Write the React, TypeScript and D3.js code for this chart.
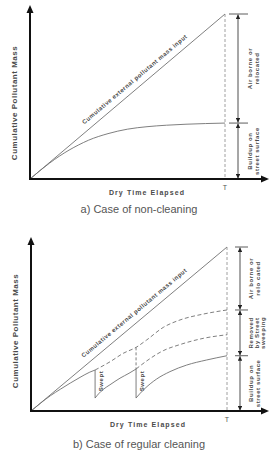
import React from 'react';
import * as d3 from 'd3';

// ---------- data (time in units of T/10, mass in units of total input at T / 10) ----------
const T_END = 10;
const inputT = [0, 10];
const inputV = [0, 10];

const noCleanT = [0, 0.5, 1, 1.5, 2, 2.5, 3, 4, 5, 6, 7, 8, 9, 10];
const noCleanV = [0, 0.5, 0.96, 1.38, 1.75, 2.07, 2.35, 2.75, 3.02, 3.17, 3.26, 3.32, 3.36, 3.39];

const sweepT = [3.27, 5.36];
const seg1T = [0, 0.5, 1, 1.5, 2, 2.5, 3, 3.27];
const seg1V = [0, 0.49, 0.94, 1.33, 1.7, 2.05, 2.37, 2.5];
const seg2T = [3.27, 3.45, 3.7, 4.03, 4.54, 5.0, 5.36];
const seg2V = [0.79, 1.05, 1.33, 1.6, 2.0, 2.3, 2.56];
const seg3T = [5.36, 5.55, 5.82, 6.41, 7.09, 7.94, 8.96, 10];
const seg3V = [0.79, 1.05, 1.38, 1.95, 2.4, 2.8, 3.11, 3.37];
const upperDashT = [3.27, 4.03, 4.71, 5.36, 5.9, 6.75, 7.6, 8.79, 10];
const upperDashV = [2.5, 3.0, 3.52, 3.88, 4.33, 5.1, 5.55, 5.91, 6.16];
const lowerDashT = [5.36, 5.9, 6.4, 6.75, 7.6, 8.79, 10];
const lowerDashV = [2.56, 3.05, 3.45, 3.68, 4.05, 4.43, 4.65];

const captions = ['a) Case of non-cleaning', 'b) Case of regular cleaning'];
const yTitle = 'Cumulative Pollutant Mass';
const xTitle = 'Dry Time Elapsed';
const lineLabel = 'Cumulative external pollutant mass input';
const tLabel = 'T';
const sweptLabel = 'Swept';
const bracketLabelsA = [['Air borne or', 'relocated'], ['Buildup on', 'street surface']];
const bracketLabelsB = [['Air borne or', 'relo cated'], ['Removed', 'by Street', 'sweeping'], ['Buildup on', 'street surface']];

const BOLD = '"Liberation Sans", Arial, sans-serif';
const LINE = '#707070';
const TXT = '#4a4a4a';

type Layout = {
  x0: number; x1: number; y0: number; y1: number;
  axisTop: number; axisRight: number;
  bracketX: number; tickX0: number; tickX1: number;
  yTitleX: number; yTitleY: number; xTitleX: number; xTitleY: number;
  captionY: number; tY: number; labelT: number; labelDy: number;
  textBase: number; gap2: number; gap3: number;
};

const layoutA: Layout = {
  x0: 30, x1: 225, y0: 179, y1: 14, axisTop: 5, axisRight: 269,
  bracketX: 238, tickX0: 229, tickX1: 248,
  yTitleX: 17, yTitleY: 103, xTitleX: 147, xTitleY: 195,
  captionY: 213, tY: 190, labelT: 5.65, labelDy: -6.5,
  textBase: 252, gap2: 7, gap3: 6,
};
const layoutB: Layout = {
  x0: 31, x1: 227, y0: 411, y1: 247, axisTop: 237, axisRight: 269,
  bracketX: 240, tickX0: 235, tickX1: 248,
  yTitleX: 18, yTitleY: 331, xTitleX: 148, xTitleY: 427,
  captionY: 448, tY: 422, labelT: 5.56, labelDy: -7,
  textBase: 253, gap2: 7, gap3: 6,
};

function Axes({ L }: { L: Layout }) {
  return (
    <g>
      <line x1={L.x0} y1={L.y0} x2={L.x0} y2={L.axisTop + 6} stroke="#111" strokeWidth={2} />
      <path d={`M${L.x0 - 3.5},${L.axisTop + 8} L${L.x0},${L.axisTop} L${L.x0 + 3.5},${L.axisTop + 8} Z`} fill="#111" />
      <line x1={L.x0 - 1} y1={L.y0} x2={L.axisRight - 6} y2={L.y0} stroke="#111" strokeWidth={2} />
      <path d={`M${L.axisRight - 8},${L.y0 - 3.5} L${L.axisRight},${L.y0} L${L.axisRight - 8},${L.y0 + 3.5} Z`} fill="#111" />
    </g>
  );
}

function Titles({ L, caption }: { L: Layout; caption: string }) {
  return (
    <g>
      <text transform={`translate(${L.yTitleX},${L.yTitleY}) rotate(-90)`} textAnchor="middle"
        fontFamily={BOLD} fontWeight="bold" fontSize={8} letterSpacing={0.5} fill={TXT}>{yTitle}</text>
      <text x={L.xTitleX} y={L.xTitleY} textAnchor="middle" fontFamily={BOLD} fontWeight="bold"
        fontSize={7} letterSpacing={1.1} fill={TXT}>{xTitle}</text>
      <text x={139} y={L.captionY} textAnchor="middle" fontFamily={BOLD} fontSize={11} fill="#555">{caption}</text>
    </g>
  );
}

function Brackets({ L, levels, labels, y }: { L: Layout; levels: number[]; labels: string[][]; y: d3.ScaleLinear<number, number> }) {
  return (
    <g>
      {levels.slice(0, -1).map((v, i) => (
        <line key={'t' + i} x1={L.tickX0} x2={L.tickX1} y1={y(v)} y2={y(v)} stroke="#333" strokeWidth={0.8} />
      ))}
      {levels.slice(0, -1).map((v, i) => {
        const a = y(v), b = y(levels[i + 1]);
        const mid = (a + b) / 2;
        const lines = labels[i];
        const gap = lines.length === 3 ? L.gap3 : L.gap2;
        return (
          <g key={'b' + i}>
            <line x1={L.bracketX} x2={L.bracketX} y1={a + 0.5} y2={b - 0.5} stroke="#222" strokeWidth={0.8}
              markerStart="url(#arrowHead)" markerEnd="url(#arrowHead)" />
            {lines.map((s, j) => (
              <text key={j} transform={`translate(${L.textBase + j * gap},${mid}) rotate(-90)`} textAnchor="middle"
                fontFamily={BOLD} fontWeight="bold" fontSize={6} letterSpacing={0.6} fill={TXT}>{s}</text>
            ))}
          </g>
        );
      })}
    </g>
  );
}

function InputLine({ L, x, y, line }: any) {
  const pts = inputT.map((t, i) => [t, inputV[i]] as [number, number]);
  const ang = (Math.atan2(y(inputV[1]) - y(inputV[0]), x(inputT[1]) - x(inputT[0])) * 180) / Math.PI;
  return (
    <g>
      <path d={line(pts)} fill="none" stroke={LINE} strokeWidth={0.9} />
      <text transform={`translate(${x(L.labelT)},${y(L.labelT)}) rotate(${ang})`} dy={L.labelDy} textAnchor="middle"
        fontFamily={BOLD} fontWeight="bold" fontSize={6} letterSpacing={0.45} fill={TXT}>{lineLabel}</text>
      <line x1={x(T_END)} x2={x(T_END)} y1={y(inputV[1])} y2={L.y0} stroke="#888" strokeWidth={0.8} strokeDasharray="3,2" />
      <text x={x(T_END)} y={L.tY} textAnchor="middle" fontFamily={BOLD} fontSize={7} fill="#555">{tLabel}</text>
    </g>
  );
}

export default function App() {
  const xa = d3.scaleLinear().domain([0, T_END]).range([layoutA.x0, layoutA.x1]);
  const ya = d3.scaleLinear().domain([0, 10]).range([layoutA.y0, layoutA.y1]);
  const xb = d3.scaleLinear().domain([0, T_END]).range([layoutB.x0, layoutB.x1]);
  const yb = d3.scaleLinear().domain([0, 10]).range([layoutB.y0, layoutB.y1]);

  const mk = (x: any, y: any) => d3.line<[number, number]>().x(d => x(d[0])).y(d => y(d[1])).curve(d3.curveMonotoneX);
  const la = mk(xa, ya);
  const lb = mk(xb, yb);
  const zip = (t: number[], v: number[]) => t.map((tt, i) => [tt, v[i]] as [number, number]);

  const levelsA = [inputV[1], noCleanV[noCleanV.length - 1], 0];
  const levelsB = [inputV[1], upperDashV[upperDashV.length - 1], seg3V[seg3V.length - 1], 0];

  return (
    <svg width={270} height={452} style={{ position: 'absolute', left: 0, top: 0 }}>
      <defs>
        <marker id="arrowHead" viewBox="0 0 8 8" refX={8} refY={4} markerWidth={4.5} markerHeight={4.5}
          markerUnits="userSpaceOnUse" orient="auto-start-reverse">
          <path d="M0,0 L8,4 L0,8 Z" fill="#222" />
        </marker>
      </defs>
      <rect width={270} height={452} fill="#fff" />

      {/* Panel a */}
      <InputLine L={layoutA} x={xa} y={ya} line={la} />
      <path d={la(zip(noCleanT, noCleanV)) as string} fill="none" stroke={LINE} strokeWidth={0.9} />
      <Brackets L={layoutA} levels={levelsA} labels={bracketLabelsA} y={ya} />
      <Axes L={layoutA} />
      <Titles L={layoutA} caption={captions[0]} />

      {/* Panel b */}
      <InputLine L={layoutB} x={xb} y={yb} line={lb} />
      <path d={lb(zip(upperDashT, upperDashV)) as string} fill="none" stroke={LINE} strokeWidth={0.9} strokeDasharray="4,2.5" />
      <path d={lb(zip(lowerDashT, lowerDashV)) as string} fill="none" stroke={LINE} strokeWidth={0.9} strokeDasharray="4,2.5" />
      <path d={lb(zip(seg1T, seg1V)) as string} fill="none" stroke={LINE} strokeWidth={0.9} />
      <path d={lb(zip(seg2T, seg2V)) as string} fill="none" stroke={LINE} strokeWidth={0.9} />
      <path d={lb(zip(seg3T, seg3V)) as string} fill="none" stroke={LINE} strokeWidth={0.9} />
      {/* sweep drops */}
      <line x1={xb(sweepT[0])} x2={xb(sweepT[0])} y1={yb(seg1V[seg1V.length - 1])} y2={yb(seg2V[0])} stroke={LINE} strokeWidth={0.9} />
      <line x1={xb(sweepT[1])} x2={xb(sweepT[1])} y1={yb(upperDashV[3])} y2={yb(seg2V[seg2V.length - 1])} stroke={LINE} strokeWidth={0.9} strokeDasharray="3,2" />
      <line x1={xb(sweepT[1])} x2={xb(sweepT[1])} y1={yb(seg2V[seg2V.length - 1])} y2={yb(seg3V[0])} stroke={LINE} strokeWidth={0.9} />
      {sweepT.map((t, i) => (
        <text key={i} transform={`translate(${xb(t) + 7.5},${yb((seg2V[0] + seg1V[seg1V.length - 1]) / 2) - 3}) rotate(-90)`}
          textAnchor="middle" fontFamily={BOLD} fontWeight="bold" fontSize={6} letterSpacing={0.6} fill={TXT}>{sweptLabel}</text>
      ))}
      <Brackets L={layoutB} levels={levelsB} labels={bracketLabelsB} y={yb} />
      <Axes L={layoutB} />
      <Titles L={layoutB} caption={captions[1]} />
    </svg>
  );
}
